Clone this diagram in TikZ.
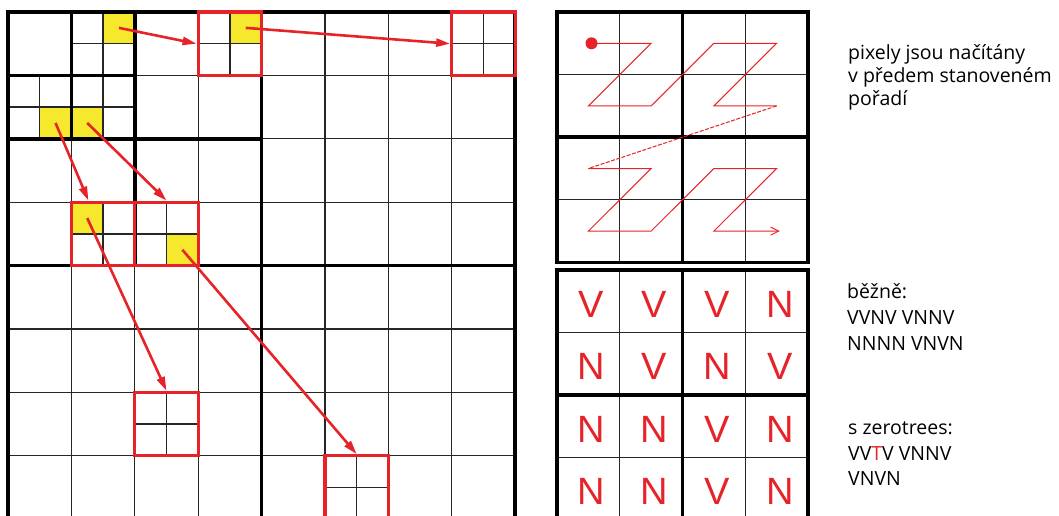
\documentclass[tikz,border=0pt]{standalone}
\usepackage{fontspec}
\setmainfont{Open Sans}
\newfontfamily\letterfont{Liberation Sans}
\usetikzlibrary{arrows.meta, calc}
\definecolor{zred}{RGB}{230,35,40}
\definecolor{zyellow}{RGB}{246,232,45}
\tikzset{
  thinline/.style  = {draw=black!85, line width=1.3pt},
  thickline/.style = {draw=black, line width=3.6pt},
  ycell/.style     = {rectangle, fill=zyellow, minimum size=31.7pt, inner sep=0pt},
  rbox/.style      = {rectangle, draw=zred, line width=3.3pt, minimum size=63.4pt, inner sep=0pt},
  arrow/.style     = {-{Triangle[length=14pt, width=8pt]}, draw=zred, line width=2.6pt},
  zpath/.style     = {draw=zred, line width=1pt, line join=miter},
  dot/.style       = {circle, fill=zred, minimum size=12pt, inner sep=0pt},
  letter/.style    = {font=\letterfont\fontsize{38}{40}\selectfont, text=zred, inner sep=0pt},
  note/.style      = {font=\fontsize{19.5}{23}\selectfont, align=left, inner sep=0pt, anchor=north west},
}
\begin{document}
\begin{tikzpicture}[x=1pt, y=-1pt]
  \useasboundingbox (0,0) rectangle (1059,515);
  \clip (0,0) rectangle (1059,515);
  % left: wavelet subbands
  \begin{scope}[shift={(8,12)}, x=63.4pt, y=-63.4pt]
    \foreach \name/\cx/\cy in {y1/1.75/0.25, y2/0.75/1.75, y3/1.25/1.75,
                               y4/3.75/0.25, y5/1.25/3.25, y6/2.75/3.75}
      \node[ycell] (\name) at (\cx,\cy) {};
    \foreach \k in {1,...,7}
      \draw[thinline] (\k,0) -- (\k,8) (0,\k) -- (8,\k);
    \foreach \cx/\cy in {1/0, 0/1, 1/1, 3/0, 7/0, 1/3, 2/3, 2/6, 5/7}
      \draw[thinline] (\cx+0.5,\cy) -- ++(0,1) (\cx,\cy+0.5) -- ++(1,0);
    \draw[thickline] (0,0) rectangle (8,8) (4,0) -- (4,8) (0,4) -- (8,4)
      (2,0) -- (2,4) (0,2) -- (4,2) (1,0) -- (1,2) (0,1) -- (2,1);
    \foreach \name/\cx/\cy in {b1/3/0, b2/7/0, b3/1/3, b4/2/3, b5/2/6, b6/5/7}
      \node[rbox] (\name) at (\cx+0.5,\cy+0.5) {};
  \end{scope}
  \draw[arrow] (y1.center) -- (b1.west);
  \draw[arrow] (y4.center) -- (b2.west);
  \draw[arrow] (y2.center) -- ($(b3.north west)!0.28!(b3.north east)$);
  \draw[arrow] (y3.center) -- (b4.north);
  \draw[arrow] (y5.center) -- (b5.north);
  \draw[arrow] (y6.center) -- (b6.north);
  % right top: scan order
  \begin{scope}[shift={(557,12)}, x=62.75pt, y=-62.6pt]
    \foreach \k in {1,3}
      \draw[thinline] (\k,0) -- (\k,4) (0,\k) -- (4,\k);
    \draw[thickline] (0,0) rectangle (4,4) (2,0) -- (2,4) (0,2) -- (4,2);
    \node[dot] (start) at (0.55,0.5) {};
    \draw[zpath] (start.center) -- (1.5,0.5) -- (0.5,1.5) -- (1.5,1.5) -- (2.5,0.5)
      -- (3.5,0.5) -- (2.5,1.5) -- (3.5,1.5);
    \draw[zpath, dash pattern=on 4pt off 1.5pt] (3.5,1.5) -- (0.5,2.5);
    \draw[zpath, -{Straight Barb[length=8pt, width=8pt]}] (0.5,2.5) -- (1.5,2.5)
      -- (0.5,3.5) -- (1.5,3.5) -- (2.5,2.5) -- (3.5,2.5) -- (2.5,3.5) -- (3.55,3.5);
  \end{scope}
  % right bottom: significance map
  \begin{scope}[shift={(557,270)}, x=62.75pt, y=-62.5pt]
    \foreach \k in {1,3}
      \draw[thinline] (\k,0) -- (\k,4) (0,\k) -- (4,\k);
    \draw[thickline] (0,0) rectangle (4,4) (2,0) -- (2,4) (0,2) -- (4,2);
    \foreach \line [count=\r from 0] in {{V,V,V,N},{N,V,N,V},{N,N,V,N},{N,N,V,N}}
      \foreach \l [count=\c from 0] in \line
        \node[letter] (l\r\c) at (\c+0.55,\r+0.55) {\l};
  \end{scope}
  % texts
  \node[note] (order) at (848,44) {pixely jsou načítány\\v předem stanoveném\\pořadí};
  \node[note, font=\fontsize{19.5}{26}\selectfont] (plain) at (847,283)
    {běžně:\\VVNV VNNV\\NNNN VNVN};
  \node[note, font=\fontsize{19.5}{25.5}\selectfont] (ztree) at (848,421.5)
    {s zerotrees:\\VV\textcolor{zred}{T}V VNNV\\VNVN};
\end{tikzpicture}
\end{document}
